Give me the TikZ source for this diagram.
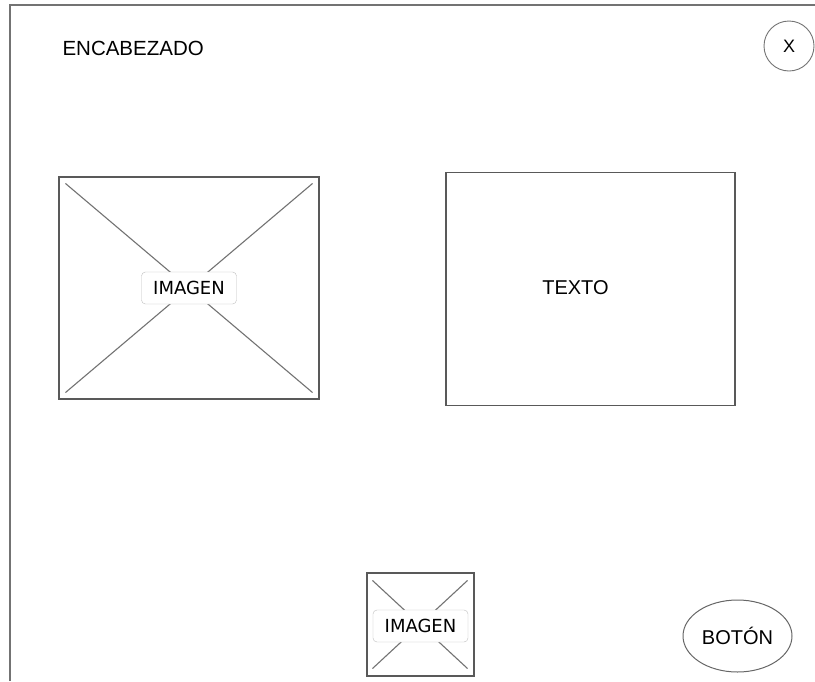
\documentclass[tikz,border=0pt]{standalone}
\usepackage{fontspec}
\setmainfont{Liberation Sans}
\newfontfamily\labelfont{DejaVu Sans}
\usetikzlibrary{positioning, calc, shapes.geometric}

\begin{document}
\begin{tikzpicture}[
    x=1pt, y=-1pt,
    % Styles
    frame/.style={draw=black!55, line width=1.3pt},
    imgbox/.style={
        draw=black!65, line width=1.1pt, fill=white,
        inner sep=0pt
    },
    cross/.style={draw=black!55, line width=1.1pt},
    imglabel/.style={
        draw=black!25, fill=white, rounded corners=4pt,
        font=\labelfont\fontsize{18}{18}\selectfont,
        minimum width=95pt, minimum height=32pt, inner sep=2pt
    },
    textbox/.style={
        draw=black!65, line width=1.1pt, inner sep=0pt,
        minimum width=289pt, minimum height=233pt
    },
    bigtext/.style={font=\fontsize{20}{20}\selectfont},
    header/.style={font=\fontsize{20.5}{20.5}\selectfont, anchor=west},
    closebtn/.style={
        draw=black!55, circle, line width=0.9pt,
        minimum size=50pt, inner sep=0pt,
        font=\fontsize{18}{18}\selectfont
    },
    button/.style={
        draw=black!60, ellipse, line width=1pt,
        minimum width=109pt, minimum height=72pt, inner sep=0pt,
        font=\fontsize{20}{20}\selectfont
    }
  ]

    \useasboundingbox (0,0) rectangle (815,681);

    % --- Window frame ---
    \draw[frame] (10,681) -- (10,5) -- (815,5);

    % --- Header row ---
    \node (header) [header] at (59,48) {ENCABEZADO};
    \node (close) [closebtn] at (789,46) {X};

    % --- Image placeholder ---
    \node (img) [imgbox, minimum width=260pt, minimum height=222pt] at (189,288) {};
    \draw[cross] ($(img.north west)+(7,7)$) -- ($(img.south east)+(-7,-7)$);
    \draw[cross] ($(img.north east)+(-7,7)$) -- ($(img.south west)+(7,-7)$);
    \node (imglbl) [imglabel] at (img.center) {IMAGEN};

    % --- Text block ---
    \node (txt) [textbox] at (590.5,289) {};
    \node (txtlbl) [bigtext] at ($(txt.center)+(-15,-1)$) {TEXTO};

    % --- Small image placeholder ---
    \node (smallimg) [imgbox, minimum width=107pt, minimum height=103pt] at (420.5,624.5) {};
    \draw[cross] ($(smallimg.north west)+(6,8)$) -- ($(smallimg.south east)+(-7,-8)$);
    \draw[cross] ($(smallimg.north east)+(-7,8)$) -- ($(smallimg.south west)+(6,-8)$);
    \node (smalllbl) [imglabel] at ($(smallimg.center)+(0,1.5)$) {IMAGEN};

    % --- Button ---
    \node (btn) [button] at (737.5,636) {BOTÓN};

  \end{tikzpicture}
\end{document}
